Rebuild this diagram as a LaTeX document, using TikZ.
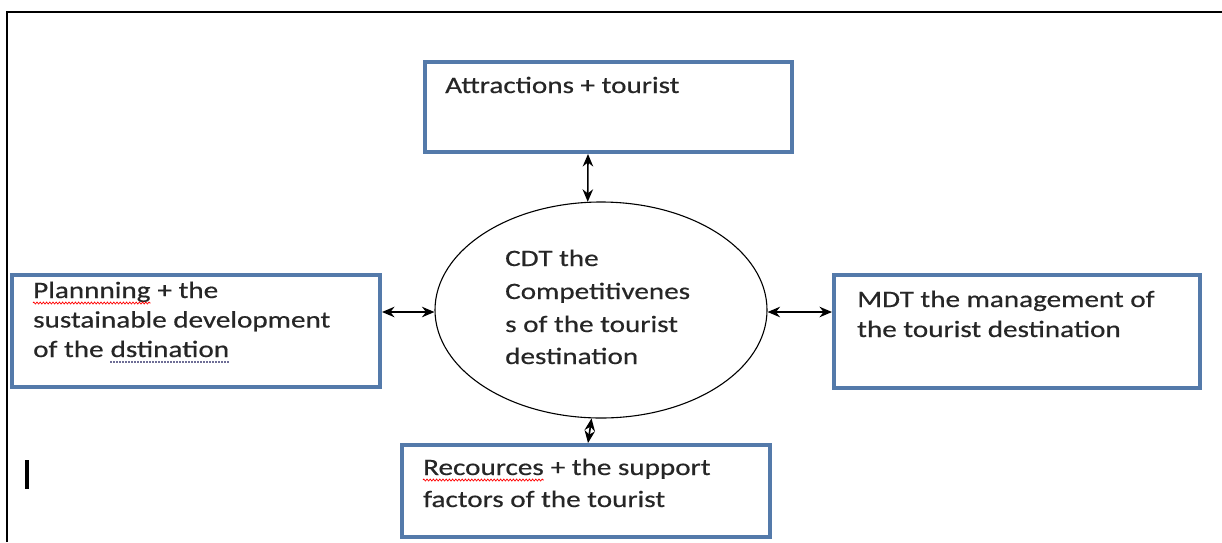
\documentclass[tikz,border=0pt]{standalone}
\usepackage{fontspec}
\setmainfont[FakeStretch=1.24,FakeBold=0.5]{Carlito}
\usetikzlibrary{arrows.meta,shapes.geometric,decorations.pathmorphing}
\definecolor{boxblue}{RGB}{84,122,170}
\definecolor{txt}{RGB}{38,38,38}
\definecolor{dotgray}{RGB}{110,110,150}
\tikzset{
  bluebox/.style={draw=boxblue, line width=4pt, fill=white, rectangle, inner sep=0pt},
  label/.style={inner sep=0pt, anchor=base west, text=txt,
    font=\fontsize{23.5}{30}\selectfont},
  link/.style={line width=1.6pt, {Stealth[length=12.5pt,width=10.5pt]}-{Stealth[length=12.5pt,width=10.5pt]}},
  spellwave/.style={red, line width=0.7pt, decorate, decoration={zigzag, amplitude=1pt, segment length=3.2pt}},
  grammardots/.style={dotgray, line width=1.4pt, dash pattern=on 1.4pt off 1.6pt}
}
\begin{document}
\begin{tikzpicture}[x=1pt,y=-1pt]
\useasboundingbox (0,0) rectangle (1222,542);
% frame
\draw[line width=2pt] (7,542) -- (7,12) -- (1222,12);
% cursor
\fill (25,460) rectangle (29,489);
% boxes
\node[bluebox, minimum width=367pt, minimum height=90pt, anchor=north west] (top) at (423,60) {};
\node[bluebox, minimum width=368pt, minimum height=112pt, anchor=north west] (left) at (10,273) {};
\node[bluebox, minimum width=366pt, minimum height=113pt, anchor=north west] (right) at (832,273) {};
\node[bluebox, minimum width=368pt, minimum height=92pt, anchor=north west] (bottom) at (400,443) {};
% ellipse
\node[ellipse, draw, line width=1.1pt, minimum width=332pt, minimum height=216pt, inner sep=0pt] (cdt) at (601,310) {};
% texts
\node[label] (ttop) at (445,93) {Attractions + tourist};
\node[label] (l1a) at (33,298) {Plannning};
\node[label] (l1b) at (l1a.base east) {\ + the};
\node[label] (l2) at (33,327.5) {sustainable development};
\node[label] (l3a) at (33,357) {of the};
\node[label] (l3b) at ([xshift=6.6pt]l3a.base east) {dstination};
\node[label] (r1) at (857,307) {MDT the management of};
\node[label] (r2) at (857,337) {the tourist destination};
\node[label] (b1a) at (423,475) {Recources};
\node[label] (b1b) at (b1a.base east) {\ + the support};
\node[label] (b2) at (423,507) {factors of the tourist};
\node[label] (c1) at (505,266) {CDT the};
\node[label] (c2) at (505,299) {Competitivenes};
\node[label] (c3) at (505,332) {s of the tourist};
\node[label] (c4) at (505,364) {destination};
% spelling marks
\draw[spellwave] ([yshift=-5pt]l1a.base west) -- ([yshift=-5pt]l1a.base east);
\draw[spellwave] ([yshift=-5pt]b1a.base west) -- ([yshift=-5pt]b1a.base east);
\draw[grammardots] ([yshift=-5pt]l3b.base west) -- ([yshift=-5pt]l3b.base east);
% connectors
\coordinate (a1) at (top.south -| 588,0);
\draw[link] (a1) -- (cdt.97);
\draw[link] (left.east |- 0,312) -- (cdt.west |- 0,312);
\draw[link] (cdt.east |- 0,312) -- (right.west |- 0,312);
\coordinate (b1) at (bottom.north -| 588,0);
\draw[link] (cdt.265) -- (b1);
\end{tikzpicture}
\end{document}
